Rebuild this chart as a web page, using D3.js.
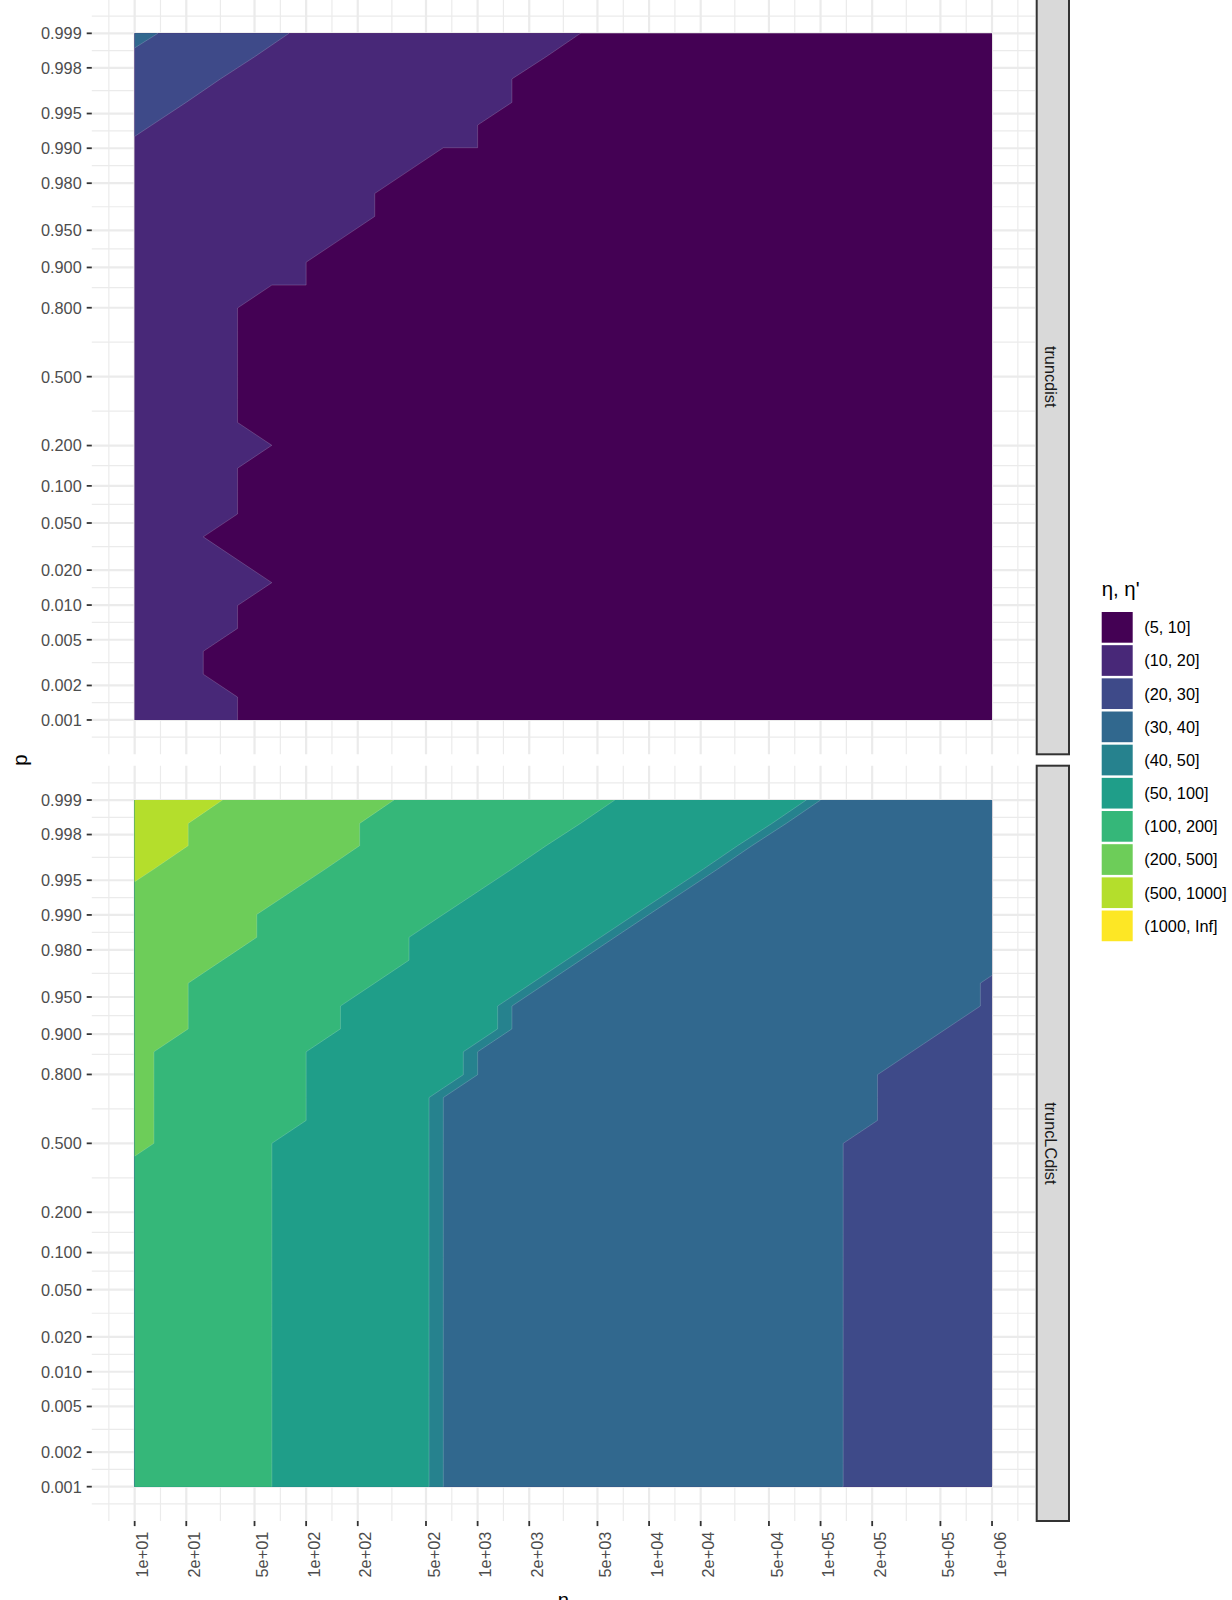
<!DOCTYPE html>
<html>
<head>
<meta charset="utf-8">
<script src="https://cdn.jsdelivr.net/npm/d3@7"></script>
<style>
  body { margin: 0; background: #fff; }
  svg text { font-family: "Liberation Sans", Arial, Helvetica, sans-serif; }
</style>
</head>
<body>
<svg id="chart" width="1232" height="1600"></svg>
<script>
// sample grid (n on log scale, p on logit scale)
const nGrid = [10, 15.85, 25.12, 39.81, 63.10, 100, 158.5, 251.2, 398.1, 631.0,
  1000, 1585, 2512, 3981, 6310, 10000, 15850, 25120, 39810, 63100,
  100000, 158500, 251200, 398100, 631000, 1000000];
const pGrid = [0.001, 0.001584, 0.002508, 0.003968, 0.006274, 0.009907, 0.01561, 0.02451,
  0.0383, 0.05937, 0.09092, 0.1368, 0.2008, 0.2847, 0.3868, 0.5, 0.6132, 0.7153,
  0.7992, 0.8632, 0.9091, 0.9406, 0.9617, 0.9755, 0.9844, 0.9901, 0.9937, 0.9960,
  0.9975, 0.9984, 0.999];

// axis breaks and labels
const nBreaks = [10, 20, 50, 100, 200, 500, 1000, 2000, 5000, 1e4, 2e4, 5e4, 1e5, 2e5, 5e5, 1e6];
const nLabels = ['1e+01', '2e+01', '5e+01', '1e+02', '2e+02', '5e+02', '1e+03', '2e+03',
  '5e+03', '1e+04', '2e+04', '5e+04', '1e+05', '2e+05', '5e+05', '1e+06'];
const pBreaks = [0.001, 0.002, 0.005, 0.01, 0.02, 0.05, 0.1, 0.2, 0.5, 0.8, 0.9, 0.95,
  0.98, 0.99, 0.995, 0.998, 0.999];
const pLabels = ['0.001', '0.002', '0.005', '0.010', '0.020', '0.050', '0.100', '0.200',
  '0.500', '0.800', '0.900', '0.950', '0.980', '0.990', '0.995', '0.998', '0.999'];

// fill bands
const bandLimits = [5, 10, 20, 30, 40, 50, 100, 200, 500, 1000];
const bandLabels = ['(5, 10]', '(10, 20]', '(20, 30]', '(30, 40]', '(40, 50]', '(50, 100]',
  '(100, 200]', '(200, 500]', '(500, 1000]', '(1000, Inf]'];
const bandColors = ['#440154', '#482878', '#3E4A89', '#31688E', '#26828E', '#1F9E89',
  '#35B779', '#6DCD59', '#B4DE2C', '#FDE725'];

const facetNames = ['truncdist', 'truncLCdist'];

// eta values on the grid, one row per p (first row p = 0.001), as [value, count] runs over n
const truncdistRuns = [
  [15, 3, 10, 1, 7, 22],
  [15, 3, 10, 1, 7, 22],
  [15, 2, 10, 1, 7, 23],
  [15, 2, 10, 1, 7, 23],
  [15, 3, 10, 1, 7, 22],
  [15, 3, 10, 1, 7, 22],
  [15, 4, 10, 1, 7, 21],
  [15, 3, 10, 1, 7, 22],
  [15, 2, 10, 1, 7, 23],
  [15, 3, 10, 1, 7, 22],
  [15, 3, 10, 1, 7, 22],
  [15, 3, 10, 1, 7, 22],
  [15, 4, 10, 1, 7, 21],
  [15, 3, 10, 1, 7, 22],
  [15, 3, 10, 1, 7, 22],
  [15, 3, 10, 1, 7, 22],
  [15, 3, 10, 1, 7, 22],
  [15, 3, 10, 1, 7, 22],
  [15, 3, 10, 1, 7, 22],
  [15, 4, 10, 2, 7, 20],
  [15, 5, 10, 1, 7, 20],
  [15, 6, 10, 1, 7, 19],
  [15, 7, 10, 1, 7, 18],
  [15, 7, 10, 1, 7, 18],
  [15, 8, 10, 1, 7, 17],
  [18, 1, 15, 8, 10, 2, 7, 15],
  [22, 1, 18, 1, 15, 8, 10, 1, 7, 15],
  [24, 1, 22, 1, 18, 1, 15, 8, 10, 1, 7, 14],
  [25, 1, 24, 1, 22, 1, 18, 1, 15, 7, 10, 1, 7, 14],
  [27.6, 1, 25, 1, 24, 1, 22, 1, 18, 1, 15, 7, 10, 1, 7, 13],
  [34, 1, 28.1, 1, 25, 1, 24, 1, 22, 1, 18, 1, 15, 7, 10, 1, 7, 12]
];

const truncLCdistRuns = [
  [178, 1, 150, 3, 100, 1, 75, 3, 64, 1, 40, 1, 35, 10, 33.3, 1, 28.3, 1, 25, 4],
  [178, 1, 150, 3, 100, 1, 75, 3, 64, 1, 40, 1, 35, 10, 33.3, 1, 28.3, 1, 25, 4],
  [178, 1, 150, 3, 100, 1, 75, 3, 64, 1, 40, 1, 35, 10, 33.3, 1, 28.3, 1, 25, 4],
  [178, 1, 150, 3, 100, 1, 75, 3, 64, 1, 40, 1, 35, 10, 33.3, 1, 28.3, 1, 25, 4],
  [178, 1, 150, 3, 100, 1, 75, 3, 64, 1, 40, 1, 35, 10, 33.3, 1, 28.3, 1, 25, 4],
  [178, 1, 150, 3, 100, 1, 75, 3, 64, 1, 40, 1, 35, 10, 33.3, 1, 28.3, 1, 25, 4],
  [178, 1, 150, 3, 100, 1, 75, 3, 64, 1, 40, 1, 35, 10, 33.3, 1, 28.3, 1, 25, 4],
  [178, 1, 150, 3, 100, 1, 75, 3, 64, 1, 40, 1, 35, 10, 33.3, 1, 28.3, 1, 25, 4],
  [178, 1, 150, 3, 100, 1, 75, 3, 64, 1, 40, 1, 35, 10, 33.3, 1, 28.3, 1, 25, 4],
  [178, 1, 150, 3, 100, 1, 75, 3, 64, 1, 40, 1, 35, 10, 33.3, 1, 28.3, 1, 25, 4],
  [178, 1, 150, 3, 100, 1, 75, 3, 64, 1, 40, 1, 35, 10, 33.3, 1, 28.3, 1, 25, 4],
  [178, 1, 150, 3, 100, 1, 75, 3, 64, 1, 40, 1, 35, 10, 33.3, 1, 28.3, 1, 25, 4],
  [178, 1, 150, 3, 100, 1, 75, 3, 64, 1, 40, 1, 35, 10, 33.3, 1, 28.3, 1, 25, 4],
  [178, 1, 150, 3, 100, 1, 75, 3, 64, 1, 40, 1, 35, 10, 33.3, 1, 28.3, 1, 25, 4],
  [178, 1, 150, 3, 100, 1, 75, 3, 64, 1, 40, 1, 35, 10, 33.3, 1, 28.3, 1, 25, 4],
  [228, 1, 178, 1, 150, 2, 100, 1, 75, 3, 64, 1, 40, 1, 35, 10, 33.3, 1, 28.3, 1, 25, 4],
  [228, 1, 178, 1, 150, 3, 100, 1, 75, 2, 64, 1, 40, 1, 35, 11, 33.3, 1, 28.3, 1, 25, 3],
  [228, 1, 178, 1, 150, 3, 100, 1, 75, 2, 64, 1, 40, 1, 35, 11, 33.3, 1, 28.3, 1, 25, 3],
  [228, 1, 178, 1, 150, 3, 100, 1, 75, 3, 64, 1, 40, 1, 35, 10, 33.3, 1, 28.3, 1, 25, 3],
  [228, 1, 178, 1, 150, 3, 100, 1, 75, 3, 64, 1, 40, 1, 35, 11, 33.3, 1, 28.3, 1, 25, 2],
  [300, 1, 228, 1, 178, 1, 150, 3, 100, 1, 75, 3, 64, 1, 40, 1, 35, 11, 33.3, 1, 28.3, 1, 25, 1],
  [300, 1, 228, 1, 178, 1, 150, 3, 100, 1, 75, 3, 64, 1, 40, 1, 35, 12, 33.3, 1, 28.3, 1],
  [300, 1, 228, 1, 178, 1, 150, 4, 100, 1, 75, 3, 64, 1, 40, 1, 35, 11, 33.3, 1, 28.3, 1],
  [300, 2, 228, 1, 178, 1, 150, 4, 100, 1, 75, 3, 64, 1, 40, 1, 35, 11, 33.3, 1],
  [300, 3, 228, 1, 178, 1, 150, 3, 100, 1, 75, 4, 64, 1, 40, 1, 35, 10, 33.3, 1],
  [300, 3, 228, 1, 178, 1, 150, 4, 100, 1, 75, 4, 64, 1, 40, 1, 35, 9, 33.3, 1],
  [445, 1, 300, 3, 228, 1, 178, 1, 150, 4, 100, 1, 75, 4, 64, 1, 40, 1, 35, 8, 33.3, 1],
  [570, 1, 445, 1, 300, 3, 228, 1, 178, 1, 150, 4, 100, 1, 75, 4, 64, 1, 40, 1, 35, 7, 33.3, 1],
  [600, 1, 570, 1, 445, 1, 300, 3, 228, 1, 178, 1, 150, 4, 100, 1, 75, 4, 64, 1, 40, 1, 35, 6, 33.3, 1],
  [600, 1, 570, 1, 445, 1, 300, 3, 228, 1, 178, 1, 150, 5, 100, 1, 75, 4, 64, 1, 40, 1, 35, 5, 33.3, 1],
  [600, 2, 570, 1, 445, 1, 300, 3, 228, 1, 178, 1, 150, 5, 100, 1, 75, 4, 64, 1, 40, 1, 35, 4, 33.3, 1]
];

const facetRuns = [truncdistRuns, truncLCdistRuns];

// layout
const panelLeft = 91.8, panelRight = 1034.9;
const panelTops = [-1, 765.7], panelBottoms = [754.3, 1521];
const axisColor = '#4D4D4D', gridColor = '#EBEBEB';
const fontSize = 16.3, titleSize = 20.4;

const svg = d3.select('#chart');
const defs = svg.append('defs');
const logit = p => Math.log(p / (1 - p));

// expand scales by 5% like ggplot
const lx = [Math.log10(10), Math.log10(1e6)];
const padX = 0.05 * (lx[1] - lx[0]);
const x = d3.scaleLog()
  .domain([10 ** (lx[0] - padX), 10 ** (lx[1] + padX)])
  .range([panelLeft, panelRight]);

const ly = [logit(0.001), logit(0.999)];
const padY = 0.05 * (ly[1] - ly[0]);

function minorBreaks(major) {
  const bd = major[1] - major[0];
  const b = [major[0] - bd, ...major, major[major.length - 1] + bd];
  return d3.pairs(b).map(([a, c]) => (a + c) / 2);
}
const xMinor = minorBreaks(nBreaks.map(Math.log10)).filter(v => v >= lx[0] - padX && v <= lx[1] + padX);
const yMinor = minorBreaks(pBreaks.map(logit)).filter(v => v >= ly[0] - padY && v <= ly[1] + padY);

function decode(runs) {
  const out = [];
  runs.forEach((row, r) => {
    const vals = [];
    for (let k = 0; k < row.length; k += 2) {
      for (let m = 0; m < row[k + 1]; m++) vals.push(row[k]);
    }
    if (vals.length !== nGrid.length) console.warn('row', r, 'has', vals.length, 'cells');
    out.push(...vals);
  });
  return out;
}

// d3.contours puts sample k at k + 0.5; interpolate the transformed grid there
const lgN = nGrid.map(Math.log10);
const lgP = pGrid.map(logit);
function along(arr, c) {
  const u = c - 0.5;
  const k = Math.max(0, Math.min(arr.length - 2, Math.floor(u)));
  return arr[k] + (u - k) * (arr[k + 1] - arr[k]);
}

const contourGen = d3.contours()
  .size([nGrid.length, pGrid.length])
  .thresholds(bandLimits);

facetNames.forEach((name, fi) => {
  const top = panelTops[fi], bottom = panelBottoms[fi];
  const y = d3.scaleLinear()
    .domain([ly[0] - padY, ly[1] + padY])
    .range([bottom, top]);

  const panel = svg.append('g').attr('class', `panel-${name}`);

  // grid lines
  panel.selectAll('.minor-x').data(xMinor).join('line')
    .attr('x1', d => x(10 ** d)).attr('x2', d => x(10 ** d))
    .attr('y1', top).attr('y2', bottom)
    .attr('stroke', gridColor).attr('stroke-width', 1.2);
  panel.selectAll('.minor-y').data(yMinor).join('line')
    .attr('x1', panelLeft).attr('x2', panelRight)
    .attr('y1', d => y(d)).attr('y2', d => y(d))
    .attr('stroke', gridColor).attr('stroke-width', 1.2);
  panel.selectAll('.major-x').data(nBreaks).join('line')
    .attr('x1', d => x(d)).attr('x2', d => x(d))
    .attr('y1', top).attr('y2', bottom)
    .attr('stroke', gridColor).attr('stroke-width', 2.2);
  panel.selectAll('.major-y').data(pBreaks).join('line')
    .attr('x1', panelLeft).attr('x2', panelRight)
    .attr('y1', d => y(logit(d))).attr('y2', d => y(logit(d)))
    .attr('stroke', gridColor).attr('stroke-width', 2.2);

  // clip to the sampled area
  defs.append('clipPath').attr('id', `clip-${fi}`)
    .append('rect')
    .attr('x', x(10)).attr('y', y(logit(0.999)))
    .attr('width', x(1e6) - x(10))
    .attr('height', y(logit(0.001)) - y(logit(0.999)));

  const gridPath = d3.geoPath(d3.geoTransform({
    point(cx, cy) {
      this.stream.point(x(10 ** along(lgN, cx)), y(along(lgP, cy)));
    }
  }));

  const bands = contourGen(decode(facetRuns[fi]));
  panel.append('g')
    .attr('clip-path', `url(#clip-${fi})`)
    .selectAll('path')
    .data(bands)
    .join('path')
    .attr('d', gridPath)
    .attr('fill', d => bandColors[bandLimits.indexOf(d.value)])
    .attr('stroke', '#ffffff')
    .attr('stroke-opacity', 0.3)
    .attr('stroke-width', 0.6);

  // y axis
  const yAxis = panel.append('g').attr('class', 'y-axis');
  yAxis.selectAll('line').data(pBreaks).join('line')
    .attr('x1', panelLeft - 5.1).attr('x2', panelLeft)
    .attr('y1', d => y(logit(d))).attr('y2', d => y(logit(d)))
    .attr('stroke', '#333333').attr('stroke-width', 1.8);
  yAxis.selectAll('text').data(pBreaks).join('text')
    .attr('x', panelLeft - 10.1)
    .attr('y', d => y(logit(d)) + 5.85)
    .attr('text-anchor', 'end')
    .style('font-size', `${fontSize}px`)
    .style('fill', axisColor)
    .text((d, i) => pLabels[i]);

  // facet strip
  const strip = panel.append('g').attr('class', 'strip');
  strip.append('rect')
    .attr('x', panelRight + 1.8).attr('y', top)
    .attr('width', 32.3).attr('height', bottom - top)
    .attr('fill', '#D9D9D9').attr('stroke', '#333333').attr('stroke-width', 2);
  strip.append('text')
    .attr('transform', `translate(${panelRight + 10.1}, ${(top + bottom) / 2}) rotate(90)`)
    .attr('text-anchor', 'middle')
    .style('font-size', `${fontSize}px`)
    .style('fill', '#1A1A1A')
    .text(name);

  // x axis only under the last panel
  if (fi === facetNames.length - 1) {
    const xAxis = panel.append('g').attr('class', 'x-axis');
    xAxis.selectAll('line').data(nBreaks).join('line')
      .attr('x1', d => x(d)).attr('x2', d => x(d))
      .attr('y1', bottom).attr('y2', bottom + 5.1)
      .attr('stroke', '#333333').attr('stroke-width', 1.8);
    xAxis.selectAll('text').data(nBreaks).join('text')
      .attr('transform', d => `translate(${x(d) + 13.6}, ${bottom + 10.7}) rotate(-90)`)
      .attr('text-anchor', 'end')
      .style('font-size', `${fontSize}px`)
      .style('fill', axisColor)
      .text((d, i) => nLabels[i]);
  }
});

// axis titles
svg.append('text')
  .attr('x', (panelLeft + panelRight) / 2)
  .attr('y', 1607.3)
  .attr('text-anchor', 'middle')
  .style('font-size', `${titleSize}px`)
  .style('fill', '#000')
  .text('n');
svg.append('text')
  .attr('transform', `translate(27.4, ${(panelTops[0] + panelBottoms[1]) / 2}) rotate(-90)`)
  .attr('text-anchor', 'middle')
  .style('font-size', `${titleSize}px`)
  .style('fill', '#000')
  .text('p');

// legend
const legend = svg.append('g').attr('class', 'legend').attr('transform', 'translate(1101.7, 612)');
legend.append('text')
  .attr('x', 0).attr('y', -16)
  .style('font-size', `${titleSize}px`)
  .style('fill', '#000')
  .text('η, η\'');
const keys = legend.selectAll('.key').data(bandLabels).join('g')
  .attr('class', 'key')
  .attr('transform', (d, i) => `translate(0, ${i * 33.17})`);
keys.append('rect')
  .attr('width', 31).attr('height', 30.7)
  .attr('fill', (d, i) => bandColors[i]);
keys.append('text')
  .attr('x', 42.6).attr('y', 15.35 + 5.85)
  .style('font-size', `${fontSize}px`)
  .style('fill', '#000')
  .text(d => d);
</script>
</body>
</html>
